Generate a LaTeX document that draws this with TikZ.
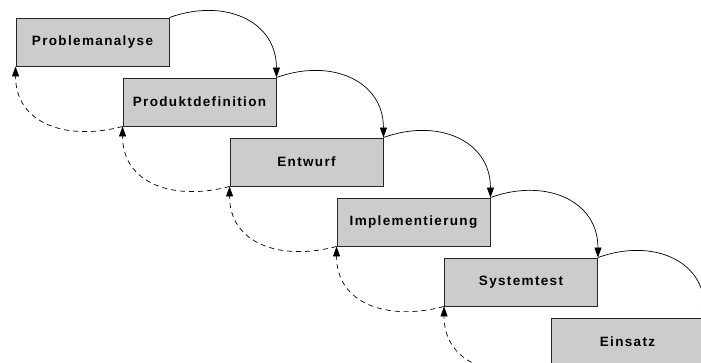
\documentclass[tikz,border=0pt]{standalone}
\usepackage{fontspec}
\newfontfamily\phasefont[LetterSpace=10]{Liberation Sans}
\usetikzlibrary{arrows.meta}

\begin{document}
\begin{tikzpicture}[x=1pt, y=1pt,
    phase node/.style={rectangle, draw=black!85, fill=black!20, line width=.9pt, minimum width=153pt, minimum height=48pt, inner sep=0pt,
        font=\phasefont\bfseries\fontsize{13.5}{16}\selectfont},
    flow edge/.style={-{Triangle[length=10pt,width=7pt]}, line width=.7pt, looseness=1.2},
    back edge/.style={flow edge, dash pattern=on 5pt off 4pt}]
\useasboundingbox (0,0) rectangle (701,363);

% phases
\node[phase node] (prob) at (92.5,321) {Problemanalyse};
\node[phase node] (prod) at (199.5,261) {Produktdefinition};
\node[phase node] (entw) at (306.5,201) {Entwurf};
\node[phase node] (impl) at (413.5,141) {Implementierung};
\node[phase node] (syst) at (521,81) {Systemtest};
\node[phase node] (eins) at (627.5,21) {Einsatz};

% forward
\foreach \a/\b in {prob/prod, prod/entw, entw/impl, impl/syst, syst/eins}
    \draw[flow edge] (\a.north east) to[out=20, in=90] (\b.north east);

% back
\foreach \a/\b in {prod/prob, entw/prod, impl/entw, syst/impl, eins/syst}
    \draw[back edge] (\a.south west) to[out=195, in=-90] (\b.south west);
\end{tikzpicture}
\end{document}
